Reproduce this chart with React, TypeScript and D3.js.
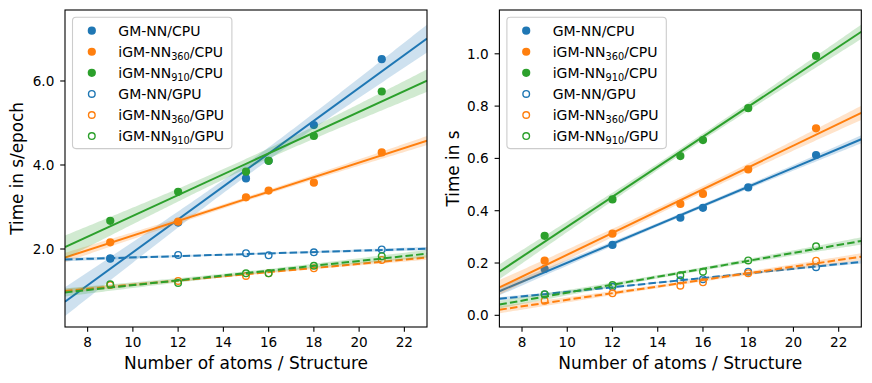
import React from 'react';
import * as d3 from 'd3';

// ---------- data ----------
const atoms = [9, 12, 15, 16, 18, 21];

// left panel: training time in s/epoch
const epochGmCpu = [1.78, 2.63, 3.68, 4.1, 4.95, 6.52];
const epoch360Cpu = [2.16, 2.65, 3.23, 3.39, 3.58, 4.3];
const epoch910Cpu = [2.67, 3.36, 3.84, 4.1, 4.69, 5.75];
const epochGmGpu = [1.77, 1.86, 1.9, 1.85, 1.92, 1.99];
const epoch360Gpu = [1.14, 1.24, 1.36, 1.42, 1.54, 1.74];
const epoch910Gpu = [1.16, 1.19, 1.42, 1.42, 1.6, 1.83];

// right panel: time in s
const sGmCpu = [0.177, 0.269, 0.373, 0.411, 0.489, 0.613];
const s360Cpu = [0.209, 0.312, 0.426, 0.464, 0.558, 0.715];
const s910Cpu = [0.304, 0.443, 0.609, 0.67, 0.792, 0.992];
const sGmGpu = [0.08, 0.109, 0.134, 0.138, 0.167, 0.184];
const s360Gpu = [0.056, 0.084, 0.113, 0.126, 0.161, 0.209];
const s910Gpu = [0.081, 0.116, 0.153, 0.167, 0.21, 0.264];

const seriesNames = ['GM-NN', 'iGM-NN', 'iGM-NN', 'GM-NN', 'iGM-NN', 'iGM-NN'];
const seriesSubs = ['', '360', '910', '', '360', '910'];
const seriesDevice = ['CPU', 'CPU', 'CPU', 'GPU', 'GPU', 'GPU'];
const seriesColors = ['#1f77b4', '#ff7f0e', '#2ca02c', '#1f77b4', '#ff7f0e', '#2ca02c'];

const xTicks = [8, 10, 12, 14, 16, 18, 20, 22];
const leftYTicks = [2, 4, 6];
const rightYTicks = [0, 0.2, 0.4, 0.6, 0.8, 1.0];

const FONT = 'DejaVu Sans, sans-serif';

function fit(xs: number[], ys: number[]) {
  const n = xs.length;
  const mx = d3.mean(xs)!;
  const my = d3.mean(ys)!;
  let sxx = 0, sxy = 0;
  xs.forEach((x, i) => { sxx += (x - mx) ** 2; sxy += (x - mx) * (ys[i] - my); });
  const b = sxy / sxx;
  const a = my - b * mx;
  let sse = 0;
  xs.forEach((x, i) => { sse += (ys[i] - (a + b * x)) ** 2; });
  const s = Math.sqrt(sse / (n - 2));
  return { a, b, s, mx, sxx, n };
}

type PanelProps = {
  x0: number; x1: number; y0: number; y1: number;
  yDomain: [number, number];
  yTicks: number[];
  yLabel: string;
  yLabelX: number;
  data: number[][];
  id: string;
};

function Panel(p: PanelProps) {
  const x = d3.scaleLinear().domain([7, 23]).range([p.x0, p.x1]);
  const y = d3.scaleLinear().domain(p.yDomain).range([p.y1, p.y0]);
  const grid = d3.range(7, 23.001, 0.1);
  const K = 1.5;
  const tickLen = 4.8;
  const legendX = p.x0 + 7.5;
  const legendY = p.y0 + 7.3;
  const rowH = 21.07;

  return (
    <g>
      <defs>
        <clipPath id={`clip-${p.id}`}>
          <rect x={p.x0} y={p.y0} width={p.x1 - p.x0} height={p.y1 - p.y0} />
        </clipPath>
      </defs>
      <g clipPath={`url(#clip-${p.id})`}>
        {p.data.map((ys, si) => {
          const f = fit(atoms, ys);
          const col = seriesColors[si];
          const gpu = seriesDevice[si] === 'GPU';
          const area = d3.area<number>()
            .x(v => x(v))
            .y0(v => y(f.a + f.b * v - K * f.s * Math.sqrt(1 / f.n + (v - f.mx) ** 2 / f.sxx)))
            .y1(v => y(f.a + f.b * v + K * f.s * Math.sqrt(1 / f.n + (v - f.mx) ** 2 / f.sxx)));
          const line = d3.line<number>().x(v => x(v)).y(v => y(f.a + f.b * v));
          return (
            <g key={si}>
              {atoms.map((a, i) => gpu ? (
                <circle key={i} cx={x(a)} cy={y(ys[i])} r={3.3} fill="none" stroke={col} strokeWidth={1.4} />
              ) : (
                <circle key={i} cx={x(a)} cy={y(ys[i])} r={4.1} fill={col} />
              ))}
              <path d={area(grid)!} fill={col} fillOpacity={0.22} stroke="none" />
              <path d={line([7, 23])!} fill="none" stroke={col} strokeWidth={2}
                strokeDasharray={gpu ? '7.5,3.2' : undefined} />
            </g>
          );
        })}
      </g>
      {/* spines */}
      <rect x={p.x0} y={p.y0} width={p.x1 - p.x0} height={p.y1 - p.y0} fill="none" stroke="#000" strokeWidth={1.1} />
      {/* x ticks */}
      {xTicks.map(t => (
        <g key={t}>
          <line x1={x(t)} x2={x(t)} y1={p.y1} y2={p.y1 + tickLen} stroke="#000" strokeWidth={1.1} />
          <text x={x(t)} y={347} textAnchor="middle" fontFamily={FONT} fontSize={13.6} fill="#000">{t}</text>
        </g>
      ))}
      {p.yTicks.map(t => (
        <g key={t}>
          <line x1={p.x0 - tickLen} x2={p.x0} y1={y(t)} y2={y(t)} stroke="#000" strokeWidth={1.1} />
          <text x={p.x0 - 10.7} y={y(t)} dy="0.36em" textAnchor="end" fontFamily={FONT} fontSize={13.6} fill="#000">{d3.format('.1f')(t)}</text>
        </g>
      ))}
      <text x={(p.x0 + p.x1) / 2} y={368.5} textAnchor="middle" fontFamily={FONT} fontSize={17} fill="#000">Number of atoms / Structure</text>
      <text transform={`translate(${p.yLabelX},${(p.y0 + p.y1) / 2}) rotate(-90)`} dy="0.36em" textAnchor="middle" fontFamily={FONT} fontSize={16.8} fill="#000">{p.yLabel}</text>
      {/* legend */}
      <rect x={legendX} y={legendY} width={159.4} height={131.3} rx={3.5} fill="#fff" fillOpacity={0.8} stroke="#cccccc" strokeWidth={1.1} />
      {seriesNames.map((nm, i) => {
        const cy = p.y0 + 20.7 + i * rowH;
        const col = seriesColors[i];
        const gpu = seriesDevice[i] === 'GPU';
        return (
          <g key={i}>
            {gpu ? (
              <circle cx={p.x0 + 26.8} cy={cy} r={3.3} fill="none" stroke={col} strokeWidth={1.4} />
            ) : (
              <circle cx={p.x0 + 26.8} cy={cy} r={4.1} fill={col} />
            )}
            <text x={p.x0 + 53.3} y={cy + 5.1} fontFamily={FONT} fontSize={14} fill="#000">
              {nm}
              {seriesSubs[i] ? <tspan fontSize={9.8} dy={3}>{seriesSubs[i]}</tspan> : null}
              {seriesSubs[i] ? <tspan dy={-3}>/{seriesDevice[i]}</tspan> : `/${seriesDevice[i]}`}
            </text>
          </g>
        );
      })}
    </g>
  );
}

export default function App() {
  return (
    <svg width={872} height={383} style={{ position: 'absolute', left: 0, top: 0, background: '#fff' }}>
      <rect x={0} y={0} width={872} height={383} fill="#fff" />
      <Panel id="l" x0={65} x1={427} y0={10} y1={327} yDomain={[0.143, 7.69]} yTicks={leftYTicks}
        yLabel="Time in s/epoch" yLabelX={17.3}
        data={[epochGmCpu, epoch360Cpu, epoch910Cpu, epochGmGpu, epoch360Gpu, epoch910Gpu]} />
      <Panel id="r" x0={499.4} x1={861.3} y0={10} y1={327} yDomain={[-0.0447, 1.1675]} yTicks={rightYTicks}
        yLabel="Time in s" yLabelX={452.7}
        data={[sGmCpu, s360Cpu, s910Cpu, sGmGpu, s360Gpu, s910Gpu]} />
    </svg>
  );
}
